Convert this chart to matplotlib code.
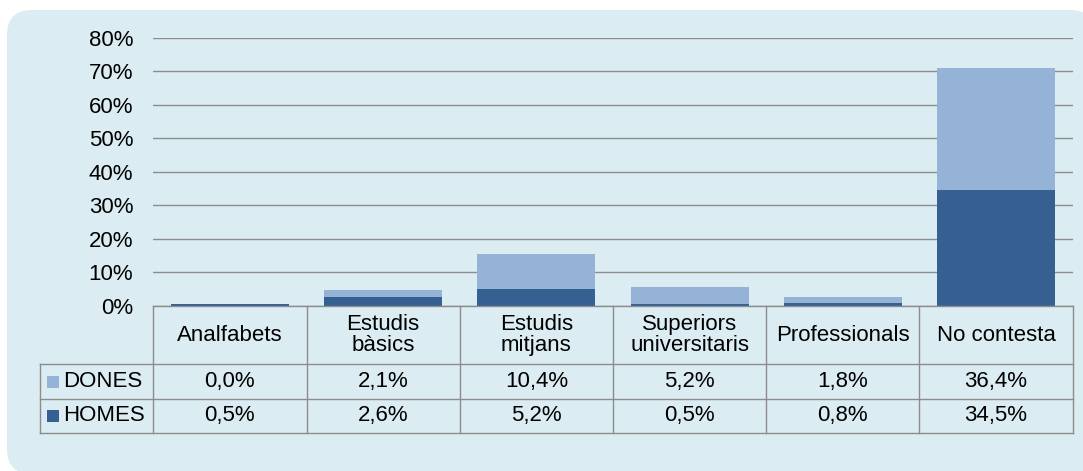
import matplotlib.pyplot as plt
from matplotlib.patches import FancyBboxPatch, Rectangle
from matplotlib.lines import Line2D

plt.rcParams['font.family'] = ['Liberation Sans', 'DejaVu Sans']

categories = ['Analfabets', 'Estudis\nbàsics', 'Estudis\nmitjans',
              'Superiors\nuniversitaris', 'Professionals', 'No contesta']
dones = [0.0, 2.1, 10.4, 5.2, 1.8, 36.4]
homes = [0.5, 2.6, 5.2, 0.5, 0.8, 34.5]
dones_labels = ['0,0%', '2,1%', '10,4%', '5,2%', '1,8%', '36,4%']
homes_labels = ['0,5%', '2,6%', '5,2%', '0,5%', '0,8%', '34,5%']
yticks = [0, 10, 20, 30, 40, 50, 60, 70, 80]

c_dones = '#95b3d7'
c_homes = '#376092'
bg = '#dbedf3'
edge = '#8c8c8c'
fs = 16

W, H = 1083, 471
fig = plt.figure(figsize=(W / 100, H / 100), dpi=100)
fig.patch.set_facecolor('white')


def fx(x):
    return x / W


def fy(y):
    return (H - y) / H


# fons arrodonit
panel = FancyBboxPatch((fx(7), fy(474)), fx(1095 - 7), (474 - 10) / H,
                       boxstyle='round,pad=0,rounding_size=0.023',
                       transform=fig.transFigure, facecolor=bg,
                       edgecolor='none', mutation_aspect=W / H, zorder=-5)
fig.patches.append(panel)

left, right, top, bottom = 153.3, 1072.7, 37.7, 306
ax = fig.add_axes([fx(left), fy(bottom), fx(right - left), (bottom - top) / H])
ax.set_facecolor('none')

x = list(range(len(categories)))
ax.bar(x, homes, width=0.77, color=c_homes, zorder=3)
ax.bar(x, dones, width=0.77, bottom=homes, color=c_dones, zorder=3)

ax.set_xlim(-0.5, len(categories) - 0.5)
ax.set_ylim(0, 80)
ax.set_yticks(yticks)
ax.set_yticklabels([f'{v}%' for v in yticks], fontsize=fs)
ax.tick_params(axis='y', length=0, pad=14.5)
ax.set_xticks([])
for s in ax.spines.values():
    s.set_visible(False)
ax.yaxis.grid(True, color=edge, linewidth=1.0, zorder=0)

# taula de dades
colw = (right - left) / len(categories)
rows_y = [306, 364.3, 398.7, 433]
lab_x = 39.7


def hline(x0, x1, y):
    fig.add_artist(Line2D([fx(x0), fx(x1)], [fy(y), fy(y)], color=edge,
                          linewidth=1.0, transform=fig.transFigure))


def vline(x, y0, y1):
    fig.add_artist(Line2D([fx(x), fx(x)], [fy(y0), fy(y1)], color=edge,
                          linewidth=1.0, transform=fig.transFigure))


hline(left, right, rows_y[0])
for yy in rows_y[1:]:
    hline(lab_x, right, yy)
vline(lab_x, rows_y[1], rows_y[3])
for i in range(len(categories) + 1):
    vline(left + i * colw, rows_y[0], rows_y[3])

for i, cat in enumerate(categories):
    cx = left + (i + 0.5) * colw
    fig.text(fx(cx), fy((rows_y[0] + rows_y[1]) / 2), cat, ha='center',
             va='center', fontsize=fs, linespacing=1.02)
    fig.text(fx(cx), fy((rows_y[1] + rows_y[2]) / 2), dones_labels[i],
             ha='center', va='center', fontsize=fs)
    fig.text(fx(cx), fy((rows_y[2] + rows_y[3]) / 2), homes_labels[i],
             ha='center', va='center', fontsize=fs)

# etiquetes de fila amb quadrats de llegenda
for name, col, r in [('DONES', c_dones, 1), ('HOMES', c_homes, 2)]:
    cy = (rows_y[r] + rows_y[r + 1]) / 2
    fig.patches.append(Rectangle((fx(47), fy(cy + 6)), fx(12), 12 / H,
                                 transform=fig.transFigure, facecolor=col,
                                 edgecolor='none', zorder=5))
    fig.text(fx(63), fy(cy), name, ha='left', va='center', fontsize=fs)

fig.savefig('out.png', dpi=100)
